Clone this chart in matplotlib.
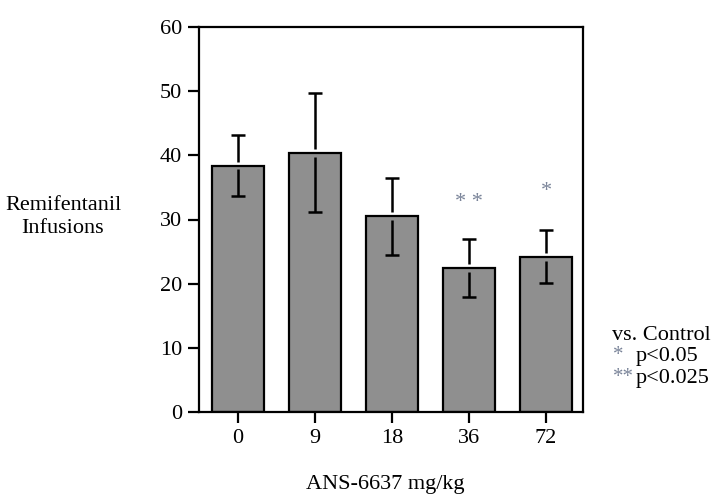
import matplotlib
matplotlib.use("Agg")
import matplotlib.pyplot as plt
import numpy as np

plt.rcParams['font.family'] = ['Liberation Serif', 'DejaVu Serif']

doses = ["0", "9", "18", "36", "72"]
infusions = [38.4, 40.4, 30.5, 22.4, 24.2]
sem = [4.7, 9.3, 6.0, 4.5, 4.1]
marks = ["", "", "", "* *", "*"]
mark_y = [0, 0, 0, 32.7, 34.3]
legend_marks = ["*", "**"]
legend_p = ["p<0.05", "p<0.025"]

fig = plt.figure(figsize=(7.22, 4.96), dpi=100)
ax = fig.add_axes([199 / 722, 1 - 412 / 496, 384 / 722, 385 / 496])

x = np.arange(len(doses))
ax.bar(x, infusions, width=0.675, color="#8f8f8f", edgecolor="black", linewidth=1.6, zorder=2)

# error bars with a small gap at the bar top
gap = 0.6
cap = 0.095
vals = np.array(infusions)
errs = np.array(sem)
ax.vlines(x, vals + gap, vals + errs, color="black", linewidth=1.8, zorder=3)
ax.vlines(x, vals - errs, vals - gap, color="black", linewidth=1.8, zorder=3)
ax.hlines(vals + errs, x - cap, x + cap, color="black", linewidth=1.8, zorder=3)
ax.hlines(vals - errs, x - cap, x + cap, color="black", linewidth=1.8, zorder=3)

for xi, m, my in zip(x, marks, mark_y):
    if m:
        ax.text(xi, my, m, ha="center", va="center", fontsize=16, color="#7a8499")

ax.set_xlim(-0.506, 4.48)
ax.set_ylim(0, 60)
ax.set_yticks(range(0, 61, 10))
ax.set_xticks(x)
ax.set_xticklabels(doses)
ax.tick_params(axis="both", labelsize=16, length=8, width=1.6, direction="out", pad=4)
for s in ax.spines.values():
    s.set_linewidth(1.6)

fig.text(63 / 722, 1 - 217 / 496, "Remifentanil\nInfusions", ha="center", va="center",
         fontsize=16, linespacing=1.35)
fig.text(385 / 722, 1 - 484 / 496, "ANS-6637 mg/kg", ha="center", va="center", fontsize=16)

# significance key
fig.text(612 / 722, 1 - 335 / 496, "vs. Control", ha="left", va="center", fontsize=16)
for i, (m, p) in enumerate(zip(legend_marks, legend_p)):
    yy = 1 - (357 + 21 * i) / 496
    fig.text(613 / 722, yy + 1 / 496, m, ha="left", va="center", fontsize=15, color="#7a8499")
    fig.text(636 / 722, yy, p, ha="left", va="center", fontsize=16)

fig.savefig("out.png", dpi=100)
